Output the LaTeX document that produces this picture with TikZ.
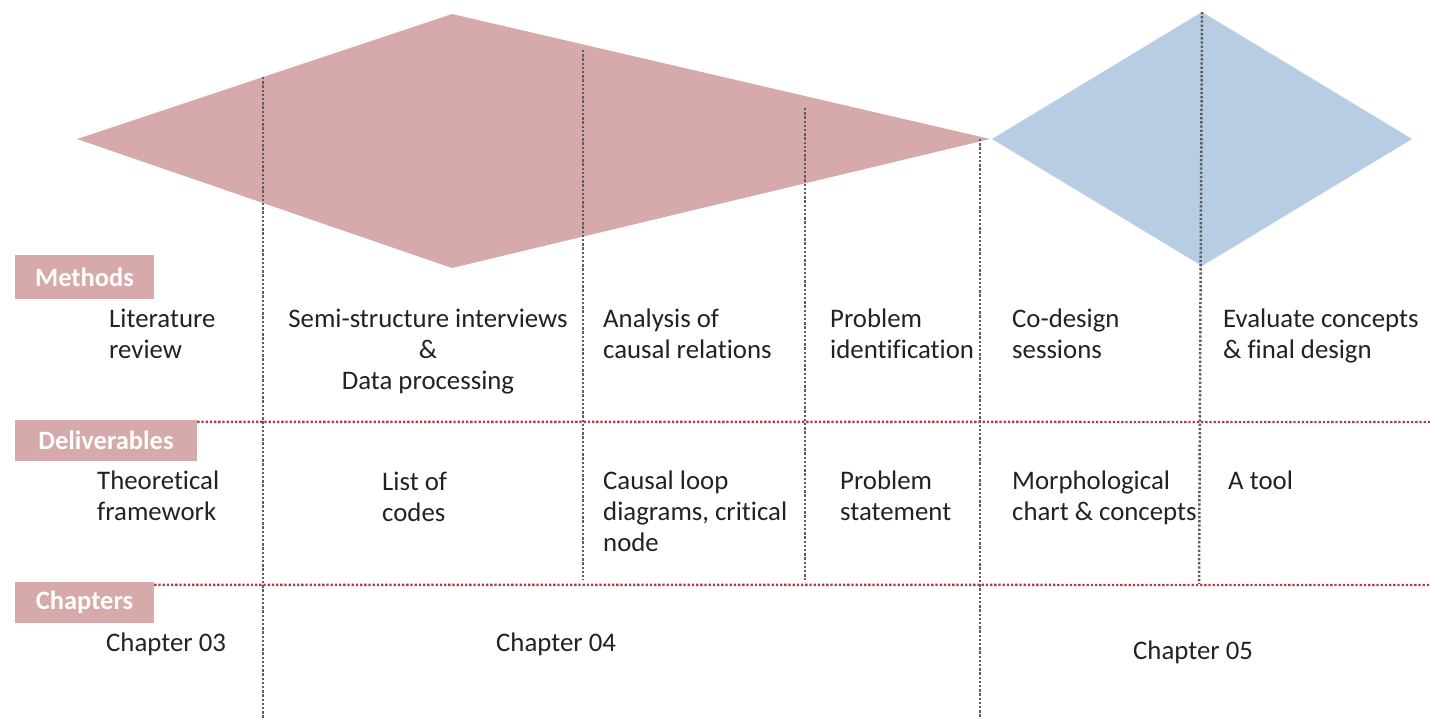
\documentclass[tikz,border=0pt]{standalone}
\usepackage{fontspec}
\setmainfont[Ligatures=NoCommon]{Carlito}
\newcommand*\nolig{\kern0pt\relax}% keeps f and i apart
\definecolor{pinkfill}{HTML}{D6A9AB}
\definecolor{bluefill}{HTML}{B6CDE4}
\definecolor{gridgray}{HTML}{5E5E5E}
\definecolor{rulered}{HTML}{B03C48}
\definecolor{textgray}{HTML}{222222}
\begin{document}
\begin{tikzpicture}[x=1pt,y=-1pt,
  % base anchor of a multi-line node sits on its last line
  txt/.style={anchor=base west, inner sep=0pt, align=left, text=textgray,
    font=\fontsize{26.8}{31}\selectfont},
  ctxt/.style={txt, anchor=base, align=center},
  tag/.style={fill=pinkfill, text=white, inner sep=0pt,
    font=\fontsize{26.5}{31}\selectfont\bfseries},
  gridline/.style={draw=gridgray, line width=2.5pt, dash pattern=on 2.3pt off 1.9pt},
  rowline/.style={draw=rulered, line width=2.4pt, dash pattern=on 2.3pt off 1.9pt}]
\useasboundingbox (0,0) rectangle (1430,718);

% phase diamonds
\coordinate (dL) at (77,139);
\coordinate (dT) at (452,14);
\coordinate (dR) at (990,139);
\coordinate (dB) at (452,268);
\fill[pinkfill] (dL) -- (dT) -- (dR) -- (dB) -- cycle;
\coordinate (eL) at (992,139);
\coordinate (eT) at (1202,12);
\coordinate (eR) at (1412,139);
\coordinate (eB) at (1202,266);
\fill[bluefill] (eL) -- (eT) -- (eR) -- (eB) -- cycle;

% row labels
\node[tag, minimum width=139pt, minimum height=44pt] (methods) at (84.5,277) {Methods};
\node[tag, minimum width=182pt, minimum height=41pt] (deliv) at (106,440.5) {Deliverables};
\node[tag, minimum width=139pt, minimum height=41pt] (chapters) at (84.5,602.5) {Chapters};

% row separators
\coordinate (r1end) at (1430,422);
\coordinate (r2end) at (1430,585);
\draw[rowline] (deliv.north east) ++(0,2) -- (r1end);
\draw[rowline] (chapters.north east) ++(0,3) -- (r2end);

% column separators
\coordinate (c1t) at (263,77);   \coordinate (c1b) at (263,718);
\coordinate (c2t) at (583,50);   \coordinate (c2b) at (583,580);
\coordinate (c3t) at (805,108);  \coordinate (c3b) at (805,580);
\coordinate (c4t) at (980,139);  \coordinate (c4b) at (980,718);
\coordinate (c5t) at (1202,12);  \coordinate (c5b) at (1199,584);
\draw[gridline] (c1t) -- (c1b);
\draw[gridline] (c2t) -- (c2b);
\draw[gridline] (c3t) -- (c3b);
\draw[gridline] (c4t) -- (c4b);
\draw[gridline] (c5t) -- (c5b);

% methods
\node[txt] (m1) at (109,358) {Literature\\review};
\node[ctxt] (m2) at (428,389) {Semi-structure interviews\\\&\\Data processing};
\node[txt] (m3) at (603,358) {Analysis of\\causal relations};
\node[txt] (m4) at (830,358) {Problem\\identif\nolig ication};
\node[txt] (m5) at (1012,358) {Co-design\\sessions};
\node[txt] (m6) at (1223,358) {Evaluate concepts\\\& f\nolig inal design};

% deliverables
\node[txt] (d1) at (97,520) {Theoretical\\framework};
\node[txt] (d2) at (382,521) {List of\\codes};
\node[txt] (d3) at (603,551) {Causal loop\\diagrams, critical\\node};
\node[txt] (d4) at (840,520) {Problem\\statement};
\node[txt] (d5) at (1012,520) {Morphological\\chart \& concepts};
\node[txt] (d6) at (1228,489) {A tool};

% chapters
\node[txt] (ch3) at (106,651) {Chapter 03};
\node[txt] (ch4) at (496,651) {Chapter 04};
\node[txt] (ch5) at (1133,659) {Chapter 05};
\end{tikzpicture}
\end{document}
